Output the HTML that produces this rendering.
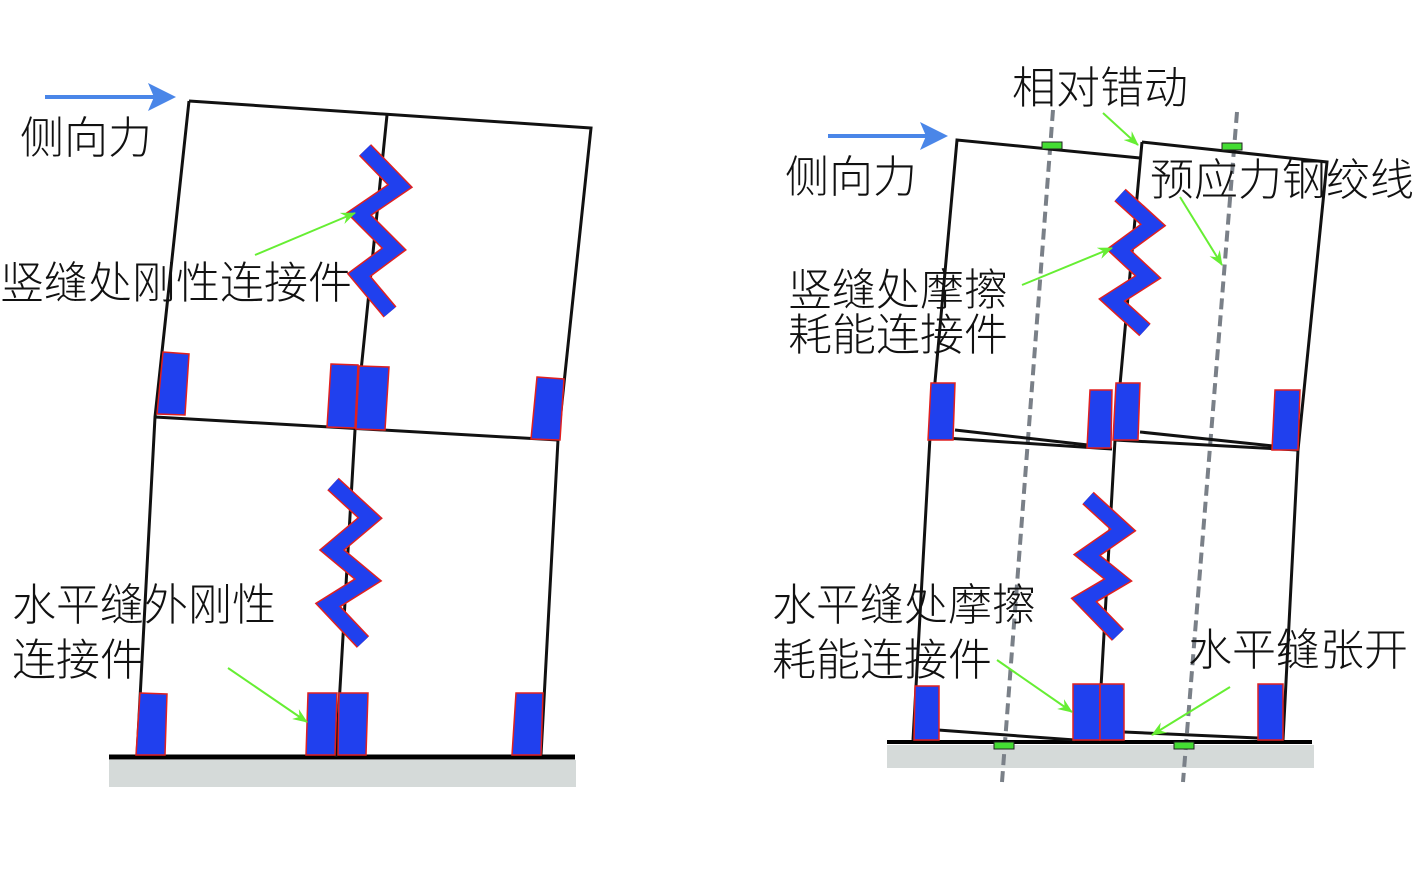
<!DOCTYPE html>
<html><head><meta charset="utf-8"><style>
html,body{margin:0;padding:0;background:#fff;}
svg{display:block}
text{font-family:"Liberation Sans","Noto Sans CJK SC",sans-serif;font-size:44px;font-weight:300;fill:#111}
</style></head><body>
<svg width="1417" height="874" viewBox="0 0 1417 874" xmlns="http://www.w3.org/2000/svg">
<defs>
<marker id="bh" markerWidth="8" markerHeight="8" refX="5" refY="3.5" orient="auto" markerUnits="strokeWidth"><path d="M0,0 L7,3.5 L0,7 L1.5,3.5 Z" fill="#4a86e8"/></marker>
<marker id="gh" markerWidth="16" markerHeight="12" refX="14" refY="6" orient="auto" markerUnits="userSpaceOnUse"><path d="M0,0 L15,6 L0,12 L5,6 Z" fill="#66ee33"/></marker>
</defs>
<!-- LEFT -->
<rect x="109" y="760" width="467" height="27" fill="#d5dad9"/>
<line x1="109" y1="757" x2="575" y2="757" stroke="#000" stroke-width="5"/>
<g stroke="#111" stroke-width="3" fill="none">
<polyline points="189,101 591,128 558,440 541,755"/>
<polyline points="189,101 155,417 137,755"/>
<polyline points="387,115 355,430 336,757"/>
<line x1="155" y1="417" x2="558" y2="440"/>
</g>
<g fill="#2040ee" stroke="#e02020" stroke-width="1.5">
<polygon points="163,352 189,354 185,415 157,414"/>
<polygon points="331,364 358,365 355,428 327,427"/>
<polygon points="359,366 389,367 385,430 356,429"/>
<polygon points="537,377 564,379 560,440 531,439"/>
<polygon points="140,693 167,694 165,755 136,755"/>
<polygon points="308,693 337,693 335,755 306,755"/>
<polygon points="339,693 368,693 366,755 338,755"/>
<polygon points="516,693 543,693 541,755 512,755"/>
</g>
<g fill="none" stroke-linejoin="miter">
<polyline points="365,150 400,186 359,214 394,249 359,275 390,312" stroke="#e02020" stroke-width="17"/>
<polyline points="365,150 400,186 359,214 394,249 359,275 390,312" stroke="#2040ee" stroke-width="14"/>
<polyline points="333,484 370,518 332,550 368,580 328,605 363,642" stroke="#e02020" stroke-width="17"/>
<polyline points="333,484 370,518 332,550 368,580 328,605 363,642" stroke="#2040ee" stroke-width="14"/>
</g>
<line x1="45" y1="97" x2="168" y2="97" stroke="#4a86e8" stroke-width="4" marker-end="url(#bh)"/>
<g stroke="#66ee33" stroke-width="2" fill="none">
<line x1="255" y1="255" x2="355" y2="213" marker-end="url(#gh)"/>
<line x1="228" y1="668" x2="307" y2="722" marker-end="url(#gh)"/>
</g>
<text x="20" y="153">侧向力</text>
<text x="0" y="298">竖缝处刚性连接件</text>
<text x="12" y="620">水平缝外刚性</text>
<text x="12" y="675">连接件</text>
<!-- RIGHT -->
<rect x="887" y="745" width="427" height="23" fill="#d5dad9"/>
<g stroke="#7a8088" stroke-width="4" stroke-dasharray="11,6" fill="none">
<line x1="1053" y1="110" x2="1002" y2="782"/>
<line x1="1237" y1="112" x2="1183" y2="782"/>
</g>
<line x1="887" y1="742" x2="1312" y2="742" stroke="#000" stroke-width="4"/>
<g stroke="#111" stroke-width="3" fill="none">
<polyline points="1140,158 957,140 930,437 913,740"/>
<polyline points="1142,142 1327,162 1298,450 1283,740"/>
<polyline points="1142,142 1115,440 1098,740"/>
<line x1="930" y1="437" x2="1112" y2="449"/>
<line x1="1115" y1="440" x2="1298" y2="450"/>
<line x1="955" y1="430" x2="1088" y2="445"/>
<line x1="1140" y1="432" x2="1273" y2="446"/>
<line x1="938" y1="730" x2="1075" y2="740"/>
<line x1="1124" y1="732" x2="1258" y2="738"/>
</g>
<g fill="#2040ee" stroke="#e02020" stroke-width="1.5">
<polygon points="931,383 955,383 953,440 928,440"/>
<polygon points="1090,390 1112,390 1111,448 1087,448"/>
<polygon points="1116,383 1140,383 1138,440 1113,440"/>
<polygon points="1275,390 1300,390 1298,450 1272,450"/>
<polygon points="915,686 939,686 939,740 914,740"/>
<polygon points="1073,684 1100,684 1100,740 1073,740"/>
<polygon points="1100,684 1124,684 1124,740 1100,740"/>
<polygon points="1258,684 1283,684 1283,740 1258,740"/>
</g>
<g fill="#44dd33" stroke="#222" stroke-width="1">
<rect x="1042" y="142" width="20" height="7"/>
<rect x="1222" y="143" width="20" height="7"/>
<rect x="994" y="742" width="20" height="7"/>
<rect x="1174" y="742" width="20" height="7"/>
</g>
<g fill="none">
<polyline points="1120,195 1153,225 1119,250 1148,277 1112,300 1145,330" stroke="#e02020" stroke-width="17"/>
<polyline points="1120,195 1153,225 1119,250 1148,277 1112,300 1145,330" stroke="#2040ee" stroke-width="14"/>
<polyline points="1088,498 1123,530 1087,555 1118,580 1084,600 1118,635" stroke="#e02020" stroke-width="17"/>
<polyline points="1088,498 1123,530 1087,555 1118,580 1084,600 1118,635" stroke="#2040ee" stroke-width="14"/>
</g>
<line x1="828" y1="136" x2="940" y2="136" stroke="#4a86e8" stroke-width="4" marker-end="url(#bh)"/>
<g stroke="#66ee33" stroke-width="2" fill="none">
<line x1="1022" y1="285" x2="1112" y2="248" marker-end="url(#gh)"/>
<line x1="1180" y1="197" x2="1222" y2="265" marker-end="url(#gh)"/>
<line x1="1103" y1="113" x2="1138" y2="145" marker-end="url(#gh)"/>
<line x1="997" y1="660" x2="1072" y2="712" marker-end="url(#gh)"/>
<line x1="1230" y1="687" x2="1152" y2="735" marker-end="url(#gh)"/>
</g>
<text x="1012" y="103">相对错动</text>
<text x="785" y="192">侧向力</text>
<text x="1150" y="195">预应力钢绞线</text>
<text x="788" y="305">竖缝处摩擦</text>
<text x="788" y="350">耗能连接件</text>
<text x="772" y="620">水平缝处摩擦</text>
<text x="772" y="675">耗能连接件</text>
<text x="1188" y="665">水平缝张开</text>
</svg>
</body></html>
